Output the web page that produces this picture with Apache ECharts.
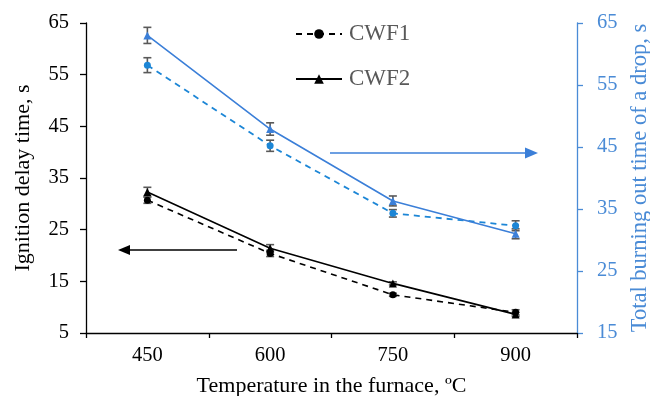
<!DOCTYPE html>
<html>
<head>
<meta charset="utf-8">
<script src="https://cdn.jsdelivr.net/npm/echarts@6/dist/echarts.min.js"></script>
<style>html,body{margin:0;padding:0;background:#fff;}#c{width:650px;height:396px;}</style>
</head>
<body>
<div id="c"></div>
<script>
var categories = ['450', '600', '750', '900'];
var ignitionCWF1 = [30.7, 20.4, 12.4, 9.0];
var ignitionCWF1Err = [0.6, 0.6, 0.3, 0.5];
var ignitionCWF2 = [32.3, 21.4, 14.6, 8.6];
var ignitionCWF2Err = [0.9, 0.7, 0.3, 0.4];
var burnCWF1 = [58.2, 45.2, 34.3, 32.3];
var burnCWF1Err = [1.2, 0.9, 0.6, 0.8];
var burnCWF2 = [63.0, 47.9, 36.3, 31.0];
var burnCWF2Err = [1.3, 1.0, 0.8, 0.8];
var leftTicks = {min: 5, max: 65, interval: 10};
var rightTicks = {min: 15, max: 65, interval: 10};

var FONT = 'Liberation Serif';
var BLUE_AXIS = '#4a8bd6';
var BLUE_SOLID = '#3b7fd8';
var BLUE_DASH = '#1c86d6';
var GRAY = '#595959';

function errSeries(vals, errs, yIdx) {
  return {
    type: 'custom',
    yAxisIndex: yIdx,
    z: 1,
    silent: true,
    data: vals.map(function (v, i) { return [i, v - errs[i], v + errs[i]]; }),
    renderItem: function (params, api) {
      var lo = api.coord([api.value(0), api.value(1)]);
      var hi = api.coord([api.value(0), api.value(2)]);
      var w = 4;
      var st = {stroke: GRAY, lineWidth: 1.6};
      return {
        type: 'group',
        children: [
          {type: 'line', shape: {x1: lo[0], y1: lo[1], x2: hi[0], y2: hi[1]}, style: st},
          {type: 'line', shape: {x1: lo[0] - w, y1: lo[1], x2: lo[0] + w, y2: lo[1]}, style: st},
          {type: 'line', shape: {x1: hi[0] - w, y1: hi[1], x2: hi[0] + w, y2: hi[1]}, style: st}
        ]
      };
    }
  };
}

var chart = echarts.init(document.getElementById('c'), null, {renderer: 'canvas'});
chart.setOption({
  animation: false,
  backgroundColor: '#fff',
  grid: {left: 86, right: 73, top: 23, bottom: 63, containLabel: false, outerBoundsMode: 'none'},
  legend: {
    orient: 'vertical',
    left: 290,
    top: 17,
    itemWidth: 46,
    itemHeight: 12,
    itemGap: 21,
    data: ['CWF1', 'CWF2'],
    textStyle: {fontFamily: FONT, fontSize: 23, lineHeight: 24, color: GRAY, padding: [0, 0, 0, 2]}
  },
  xAxis: {
    type: 'category',
    data: categories,
    boundaryGap: true,
    name: 'Temperature in the furnace, ºC',
    nameLocation: 'middle',
    nameGap: 42,
    nameTextStyle: {fontFamily: FONT, fontSize: 22, color: '#000'},
    axisLine: {lineStyle: {color: '#000', width: 1.3}},
    axisTick: {show: true, length: 5, lineStyle: {color: '#000', width: 1.3}},
    axisLabel: {fontFamily: FONT, fontSize: 20.5, color: '#000', margin: 12},
    splitLine: {show: false}
  },
  yAxis: [
    {
      type: 'value',
      min: leftTicks.min, max: leftTicks.max, interval: leftTicks.interval,
      name: 'Ignition delay time, s',
      nameLocation: 'middle',
      nameGap: 52,
      nameTextStyle: {fontFamily: FONT, fontSize: 22, color: '#000'},
      axisLine: {show: true, lineStyle: {color: '#000', width: 1.3}},
      axisTick: {show: true, length: 6, lineStyle: {color: '#000', width: 1.3}},
      axisLabel: {fontFamily: FONT, fontSize: 20.5, color: '#000', margin: 17},
      splitLine: {show: false}
    },
    {
      type: 'value',
      position: 'right',
      min: rightTicks.min, max: rightTicks.max, interval: rightTicks.interval,
      name: 'Total burning out time of a drop, s',
      nameLocation: 'middle',
      nameGap: 51,
      nameRotate: 90,
      nameTextStyle: {fontFamily: FONT, fontSize: 22.5, color: BLUE_AXIS},
      axisLine: {show: true, lineStyle: {color: BLUE_AXIS, width: 1.3}},
      axisTick: {show: true, length: 6, lineStyle: {color: BLUE_AXIS, width: 1.3}},
      axisLabel: {fontFamily: FONT, fontSize: 20.5, color: BLUE_AXIS, margin: 20},
      splitLine: {show: false}
    }
  ],
  series: [
    errSeries(ignitionCWF1, ignitionCWF1Err, 0),
    errSeries(ignitionCWF2, ignitionCWF2Err, 0),
    errSeries(burnCWF1, burnCWF1Err, 1),
    errSeries(burnCWF2, burnCWF2Err, 1),
    {
      name: 'CWF1', type: 'line', yAxisIndex: 0, data: ignitionCWF1, z: 3,
      symbol: 'circle', symbolSize: 7,
      lineStyle: {color: '#000', width: 1.6, type: [6, 5]},
      itemStyle: {color: '#000'}
    },
    {
      name: 'CWF2', type: 'line', yAxisIndex: 0, data: ignitionCWF2, z: 3,
      symbol: 'triangle', symbolSize: 8,
      lineStyle: {color: '#000', width: 1.6},
      itemStyle: {color: '#000'}
    },
    {
      name: 'Burn CWF1', type: 'line', yAxisIndex: 1, data: burnCWF1, z: 3,
      symbol: 'circle', symbolSize: 7,
      lineStyle: {color: BLUE_DASH, width: 1.8, type: [6, 5]},
      itemStyle: {color: BLUE_DASH}
    },
    {
      name: 'Burn CWF2', type: 'line', yAxisIndex: 1, data: burnCWF2, z: 3,
      symbol: 'triangle', symbolSize: 8,
      lineStyle: {color: BLUE_SOLID, width: 1.6},
      itemStyle: {color: BLUE_SOLID}
    }
  ],
  graphic: [
    {type: 'line', shape: {x1: 237, y1: 250, x2: 128, y2: 250}, style: {stroke: '#000', lineWidth: 1.6}},
    {type: 'polygon', shape: {points: [[118, 250], [130, 245], [130, 255]]}, style: {fill: '#000'}},
    {type: 'line', shape: {x1: 330, y1: 153, x2: 527, y2: 153}, style: {stroke: BLUE_SOLID, lineWidth: 1.6}},
    {type: 'polygon', shape: {points: [[538, 153], [525, 147.5], [525, 158.5]]}, style: {fill: BLUE_SOLID}}
  ]
});
</script>
</body>
</html>
